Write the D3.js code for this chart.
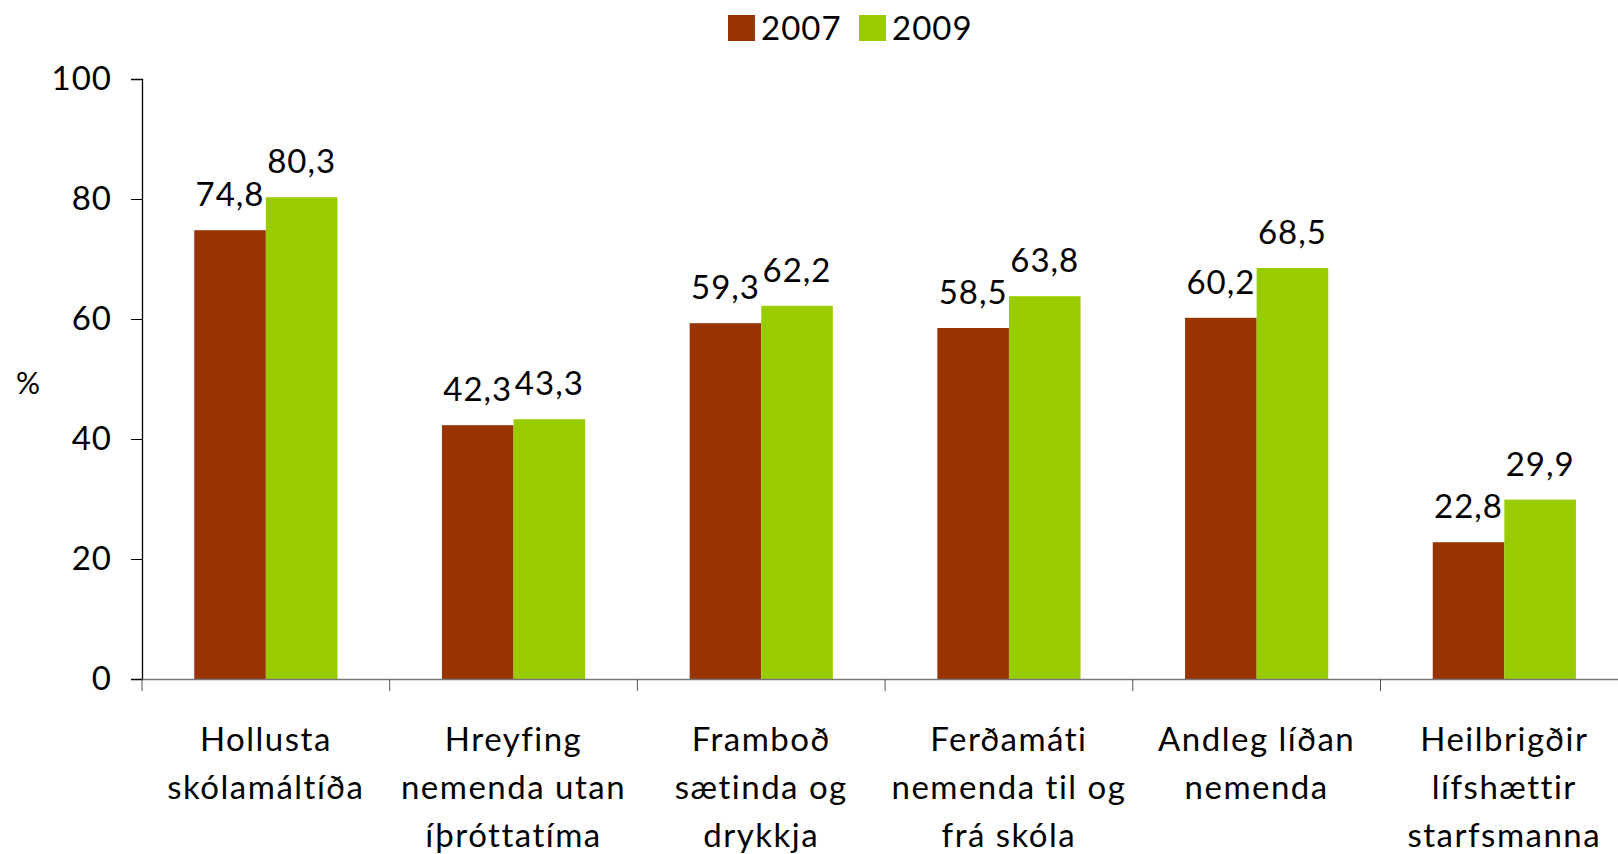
<!DOCTYPE html>
<html>
<head>
<meta charset="utf-8">
<script src="https://cdn.jsdelivr.net/npm/d3@7"></script>
<style>
  body { margin: 0; background: #fff; }
  text { font-family: Lato, "Open Sans", sans-serif; fill: #000; }
</style>
</head>
<body>
<div id="chart"></div>
<script>
// chart data
const categories = ["Hollusta", "Hreyfing", "Framboð", "Ferðamáti", "Andleg", "Heilbrigðir"];
const categoryLines = [
  ["Hollusta", "skólamáltíða"],
  ["Hreyfing", "nemenda utan", "íþróttatíma"],
  ["Framboð", "sætinda og", "drykkja"],
  ["Ferðamáti", "nemenda til og", "frá skóla"],
  ["Andleg líðan", "nemenda"],
  ["Heilbrigðir", "lífshættir", "starfsmanna"]
];
const years = ["2007", "2009"];
const values2007 = [74.8, 42.3, 59.3, 58.5, 60.2, 22.8];
const values2009 = [80.3, 43.3, 62.2, 63.8, 68.5, 29.9];
const yTicks = [0, 20, 40, 60, 80, 100];
const colors = ["#993300", "#99cc00"];

const width = 1618, height = 854;
const margin = {left: 142, top: 79, bottom: 175};
const fontSize = 33;

const svg = d3.select("#chart").append("svg")
  .attr("width", width)
  .attr("height", height);

// scales
const x0 = d3.scaleBand()
  .domain(categories)
  .range([margin.left, margin.left + 6 * 247.7]);

const x1 = d3.scaleBand()
  .domain(years)
  .range([0, x0.bandwidth()])
  .paddingOuter(0.73);

const y = d3.scaleLinear()
  .domain([0, 100])
  .range([height - margin.bottom, margin.top]);

const rows = categories.map((c, i) => ({cat: c, vals: [values2007[i], values2009[i]]}));

// bars
const groups = svg.selectAll(".grp")
  .data(rows)
  .enter().append("g")
  .attr("class", "grp")
  .attr("transform", d => `translate(${x0(d.cat)},0)`);

groups.selectAll("rect")
  .data(d => d.vals.map((v, j) => ({year: years[j], v: v, j: j})))
  .enter().append("rect")
  .attr("x", d => x1(d.year))
  .attr("y", d => y(d.v))
  .attr("width", x1.bandwidth())
  .attr("height", d => y(0) - y(d.v))
  .attr("fill", d => colors[d.j]);

// value labels
groups.selectAll(".lbl")
  .data(d => d.vals.map((v, j) => ({year: years[j], v: v})))
  .enter().append("text")
  .attr("class", "lbl")
  .attr("x", d => x1(d.year) + x1.bandwidth() / 2)
  .attr("y", d => y(d.v) - 24)
  .attr("text-anchor", "middle")
  .style("font-size", fontSize + "px")
  .style("letter-spacing", "1px")
  .text(d => d3.format(".1f")(d.v).replace(".", ","));

// y axis
const yAxis = svg.append("g")
  .attr("transform", `translate(${margin.left},0)`)
  .call(d3.axisLeft(y).tickValues(yTicks).tickSize(11).tickPadding(19));
yAxis.select(".domain").attr("stroke", "#000").attr("stroke-width", 1.3);
yAxis.selectAll(".tick line").attr("stroke", "#000");
yAxis.selectAll("text")
  .style("font-size", fontSize + "px")
  .style("font-family", "Lato, sans-serif")
  .style("letter-spacing", "1px");

// x axis line + category boundary ticks
const xAxis = svg.append("g")
  .attr("transform", `translate(0,${y(0)})`)
  .call(d3.axisBottom(x0).tickSize(0).tickFormat(""));
xAxis.select(".domain").attr("stroke", "#777").attr("stroke-width", 1.3);

svg.append("g").selectAll("line")
  .data(categories)
  .enter().append("line")
  .attr("x1", d => x0(d)).attr("x2", d => x0(d))
  .attr("y1", y(0)).attr("y2", y(0) + 12)
  .attr("stroke", "#555");

// category labels
const catLabels = svg.append("g").selectAll("text")
  .data(categories)
  .enter().append("text")
  .attr("x", d => x0(d) + x0.bandwidth() / 2)
  .attr("y", 751)
  .attr("text-anchor", "middle")
  .style("font-size", fontSize + "px")
  .style("letter-spacing", "1.5px");

catLabels.selectAll("tspan")
  .data((d, i) => categoryLines[i])
  .enter().append("tspan")
  .attr("x", function() { return this.parentNode.getAttribute("x"); })
  .attr("dy", (d, i) => i === 0 ? 0 : 48)
  .text(d => d);

// y label
svg.append("text")
  .attr("x", 28).attr("y", 394)
  .attr("text-anchor", "middle")
  .style("font-size", "30px")
  .text("%");

// legend
const legend = svg.append("g").attr("transform", "translate(728,15)");
const legItems = legend.selectAll("g")
  .data(years)
  .enter().append("g")
  .attr("transform", (d, i) => `translate(${i * 131},0)`);
legItems.append("rect")
  .attr("width", 27).attr("height", 26)
  .attr("fill", (d, i) => colors[i]);
legItems.append("text")
  .attr("x", 33).attr("y", 25)
  .style("font-size", fontSize + "px")
  .style("letter-spacing", "1px")
  .text(d => d);
</script>
</body>
</html>
